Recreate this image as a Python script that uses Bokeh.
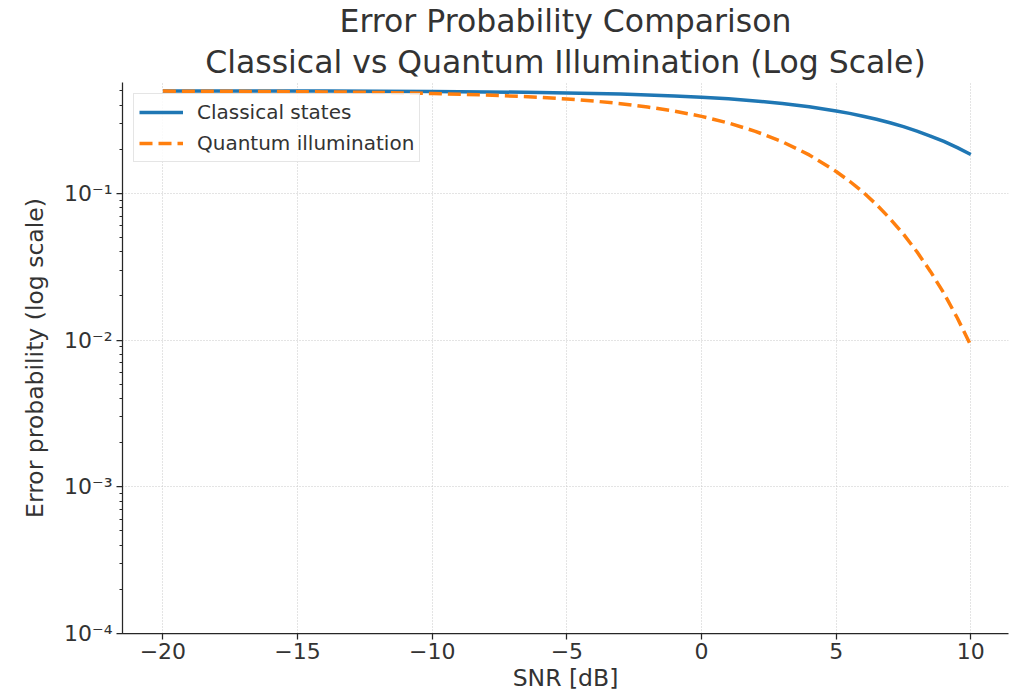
from bokeh.plotting import figure
from bokeh.models import (Range1d, LogTicker, FixedTicker, CustomJSTickFormatter,
                          Legend, LegendItem, ColumnDataSource, Title)
from bokeh.embed import file_html
from bokeh.resources import INLINE

# ---- data ----
snr_db = [-20, -18, -16, -14, -12, -10, -8, -6, -5, -4, -3, -2, -1, 0, 1, 2, 3, 4,
          5, 5.5, 6, 6.5, 7, 7.5, 8, 8.5, 9, 9.5, 10]
classical = [0.4995, 0.4992, 0.4987, 0.498, 0.4968, 0.495, 0.492, 0.4876, 0.484, 0.480,
             0.475, 0.469, 0.461, 0.452, 0.441, 0.427, 0.410, 0.389, 0.364, 0.351,
             0.336, 0.320, 0.303, 0.285, 0.266, 0.246, 0.226, 0.205, 0.184]
quantum = [0.498, 0.4968, 0.495, 0.492, 0.4875, 0.480, 0.469, 0.452, 0.440, 0.426,
           0.409, 0.388, 0.364, 0.335, 0.302, 0.265, 0.225, 0.183, 0.141, 0.121,
           0.102, 0.0838, 0.0673, 0.0527, 0.0400, 0.0294, 0.0209, 0.01414, 0.0092]
x_ticks = [-20, -15, -10, -5, 0, 5, 10]
title_lines = ["Error Probability Comparison", "Classical vs Quantum Illumination (Log Scale)"]
series_names = ["Classical states", "Quantum illumination"]

FONT = "DejaVu Sans"
TXT = "#333333"

src = ColumnDataSource(dict(x=snr_db, c=classical, q=quantum))

p = figure(width=1010, height=697, output_backend="svg", toolbar_location=None,
           y_axis_type="log",
           x_range=Range1d(-21.5, 11.4), y_range=Range1d(1e-4, 0.57),
           min_border_left=122, min_border_right=2, min_border_top=81,
           min_border_bottom=64)
p.outline_line_color = None
p.background_fill_color = "white"

# two-line title: the plot's own title sits farthest from the frame
p.title.text = title_lines[0]
p.title.align = "center"
p.title.text_font = FONT
p.title.text_font_size = "31.5px"
p.title.text_font_style = "normal"
p.title.text_color = TXT
p.title.standoff = 0
t2 = Title(text=title_lines[1], align="center", text_font=FONT, text_font_size="31.5px",
           text_font_style="normal", text_color=TXT, standoff=6)
p.add_layout(t2, "above")

# axes
p.xaxis.ticker = FixedTicker(ticks=x_ticks)
p.xaxis.formatter = CustomJSTickFormatter(code="""
return tick < 0 ? '\\u2212' + Math.abs(tick) : String(tick);
""")
p.yaxis.ticker = LogTicker(desired_num_ticks=4, num_minor_ticks=10)
p.yaxis.formatter = CustomJSTickFormatter(code="""
const e = Math.round(Math.log10(tick));
const m = {'-':'\\u207b','0':'\\u2070','1':'\\u00b9','2':'\\u00b2','3':'\\u00b3','4':'\\u2074',
           '5':'\\u2075','6':'\\u2076','7':'\\u2077','8':'\\u2078','9':'\\u2079'};
return '10' + String(e).split('').map(c => m[c]).join('');
""")

for ax in (p.xaxis[0], p.yaxis[0]):
    ax.axis_line_color = "#262626"
    ax.axis_line_width = 1.25
    ax.major_tick_line_color = "#262626"
    ax.major_tick_line_width = 1.25
    ax.major_tick_out = 6
    ax.major_tick_in = 0
    ax.minor_tick_line_color = "#262626"
    ax.minor_tick_out = 3
    ax.minor_tick_in = 0
    ax.major_label_text_font = FONT
    ax.major_label_text_font_size = "22px"
    ax.major_label_text_color = TXT
    ax.axis_label_text_font = FONT
    ax.axis_label_text_font_size = "23.5px"
    ax.axis_label_text_font_style = "normal"
    ax.axis_label_text_color = TXT

p.xaxis.minor_tick_line_color = None
p.xaxis.axis_label = "SNR [dB]"
p.xaxis.major_label_standoff = 3
p.xaxis.axis_label_standoff = 2
p.yaxis.axis_label = "Error probability (log scale)"
p.yaxis.major_label_standoff = 4
p.yaxis.axis_label_standoff = 12

p.xgrid.grid_line_color = "#c8c8c8"
p.xgrid.grid_line_dash = "1 2"
p.ygrid.grid_line_color = "#c8c8c8"
p.ygrid.grid_line_dash = "1 2"

r1 = p.line("x", "c", source=src, line_color="#1f77b4", line_width=3.5)
r2 = p.line("x", "q", source=src, line_color="#ff7f0e", line_width=3.5,
            line_dash="13 6")

legend = Legend(items=[LegendItem(label=series_names[0], renderers=[r1]),
                       LegendItem(label=series_names[1], renderers=[r2])],
                location="top_left", margin=11)
legend.label_text_font = FONT
legend.label_text_font_size = "20px"
legend.label_text_color = TXT
legend.glyph_width = 44
legend.glyph_height = 26
legend.label_height = 26
legend.label_standoff = 14
legend.spacing = 5
legend.padding = 5
legend.border_line_color = "#cccccc"
legend.border_line_width = 1
legend.background_fill_alpha = 0.85
p.add_layout(legend)

open("out.html", "w").write(file_html(p, INLINE))
